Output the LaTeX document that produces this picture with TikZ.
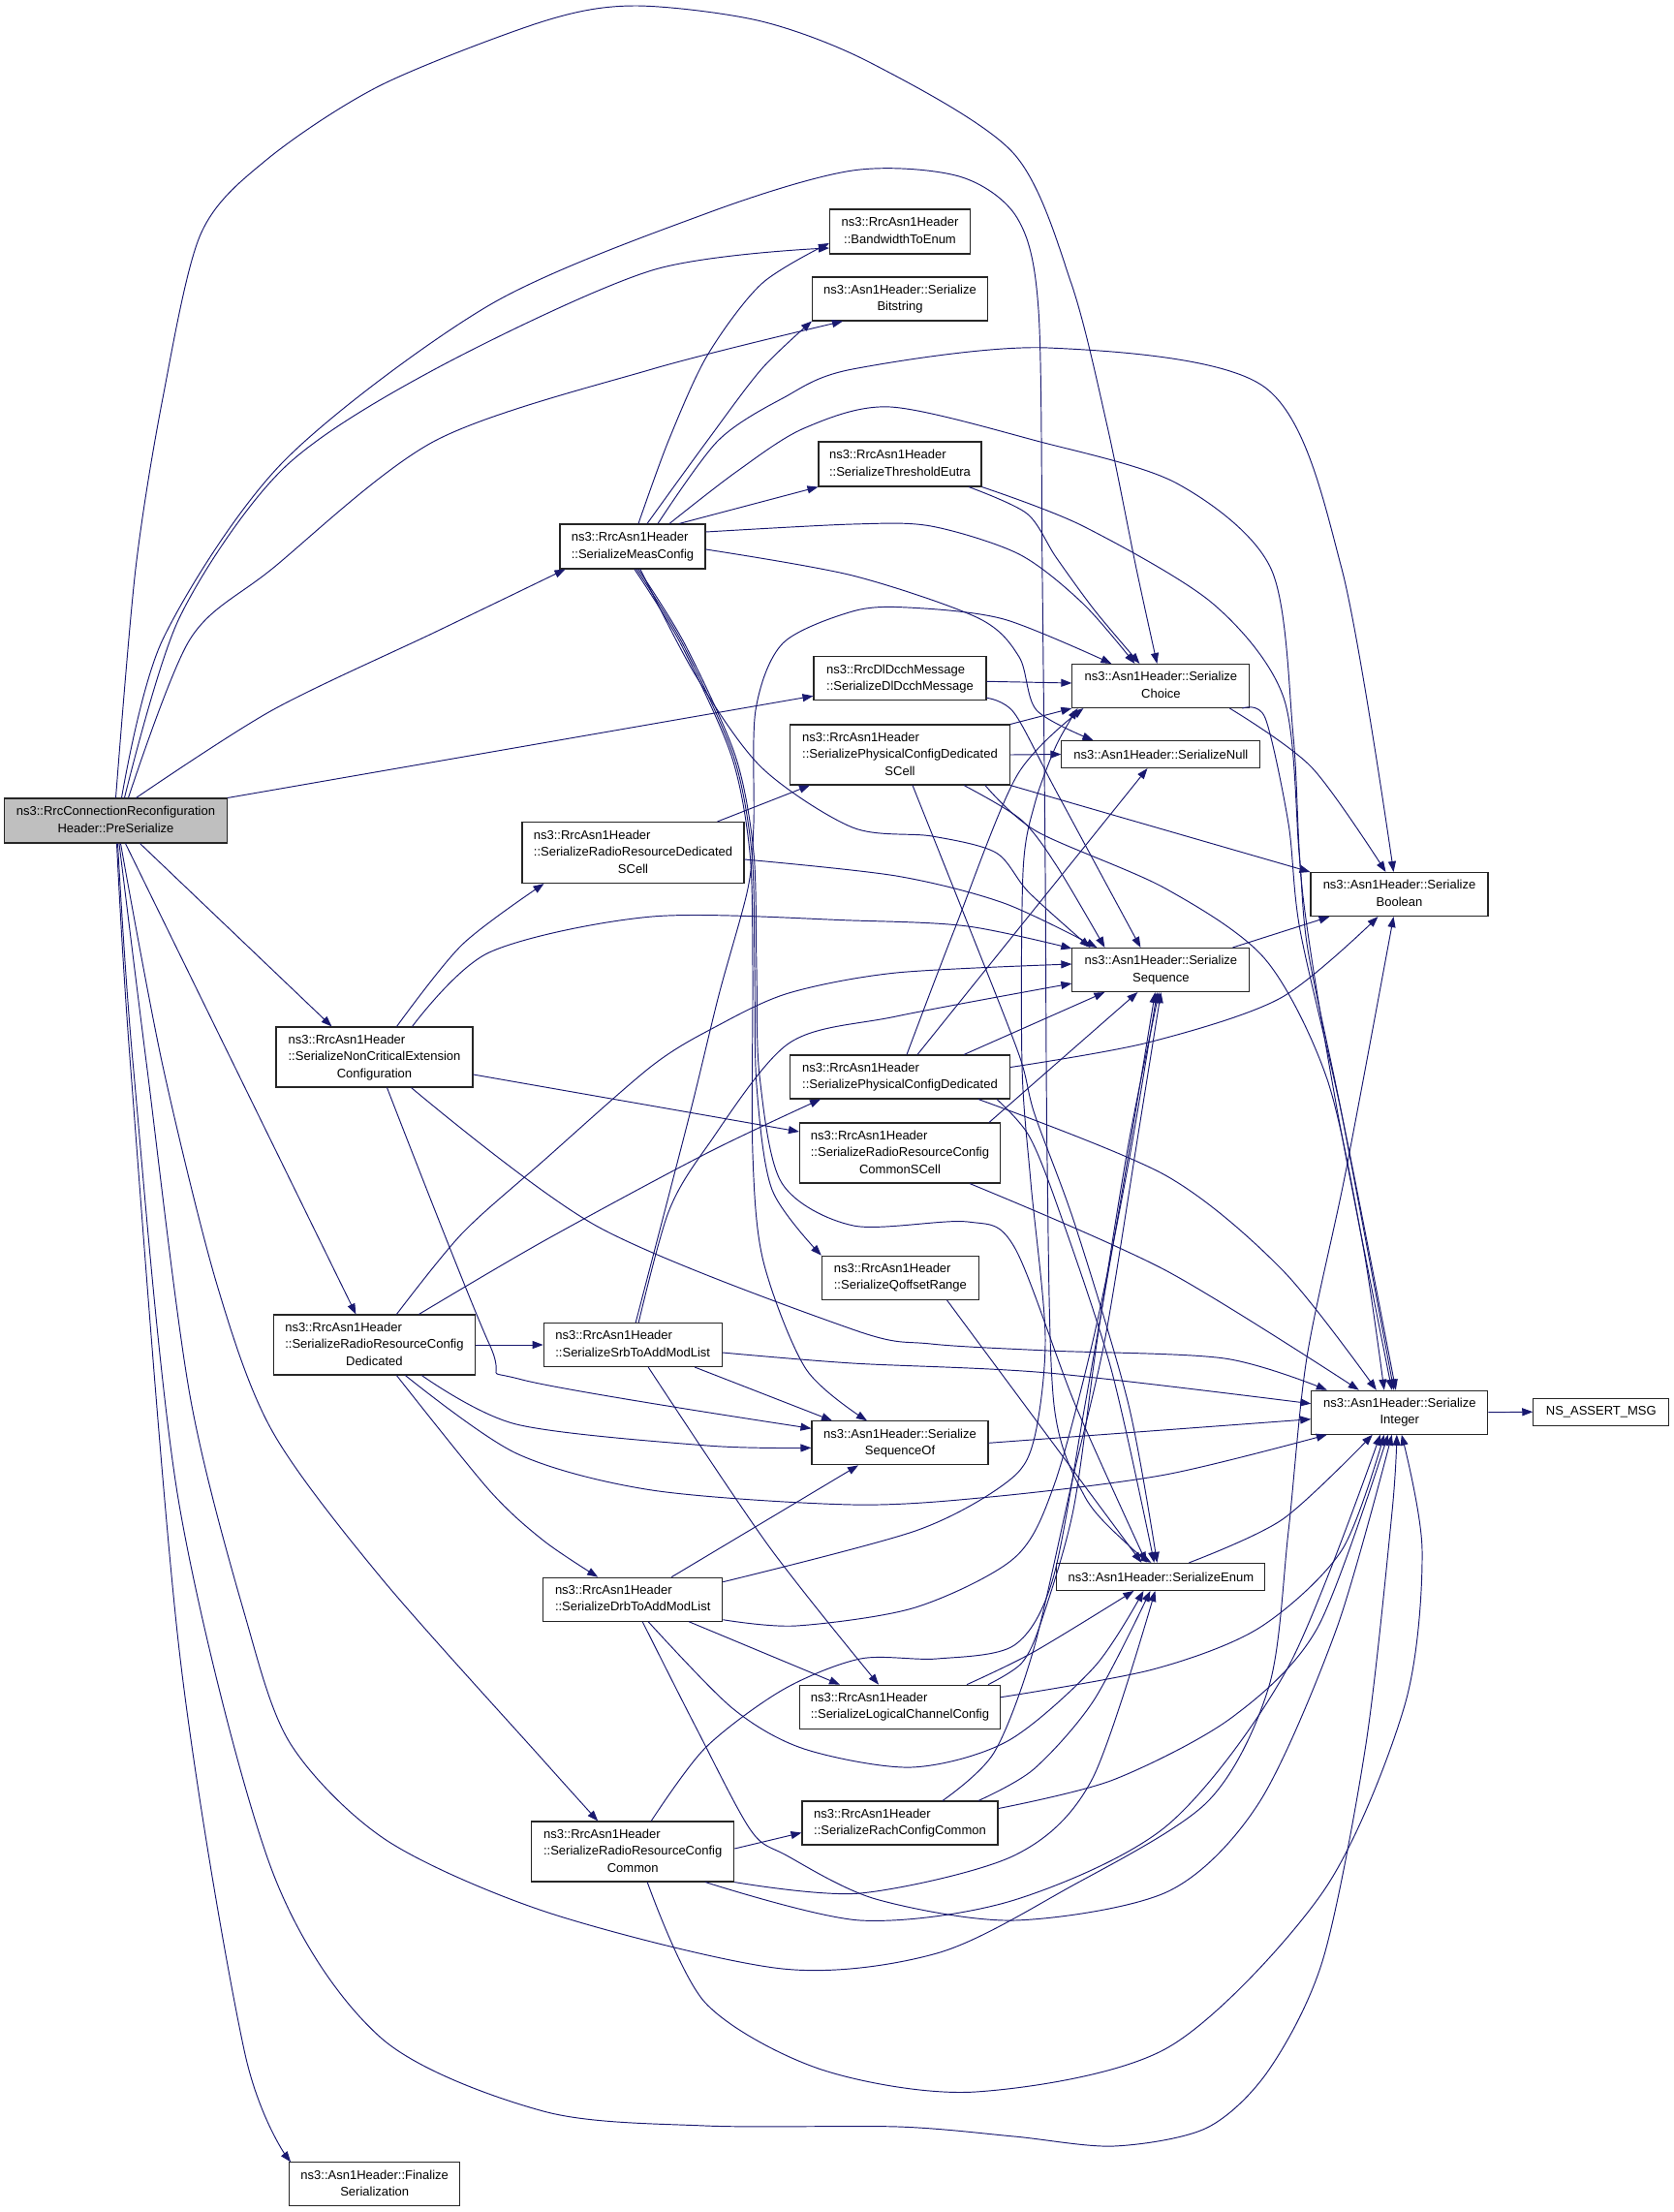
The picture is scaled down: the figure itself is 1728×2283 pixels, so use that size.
\documentclass[tikz,border=0pt]{standalone}
\usepackage{fontspec}
\setmainfont{Liberation Sans}
\usetikzlibrary{arrows.meta}
\definecolor{edgec}{RGB}{25,25,112}
\definecolor{pgray}{RGB}{191,191,191}
\newcommand{\lblB}[2]{\begin{tabular}{@{}l@{}}#1\\\multicolumn{1}{@{}c@{}}{#2}\end{tabular}}
\newcommand{\lblC}[3]{\begin{tabular}{@{}l@{}}#1\\#2\\\multicolumn{1}{@{}c@{}}{#3}\end{tabular}}
\begin{document}
\begin{tikzpicture}[x=1pt,y=-1pt,
  box/.style={draw=black!85, line width=1.1pt, fill=white, inner sep=0pt, font=\fontsize{13}{17.5}\selectfont, text=black},
  cg/.style={draw=edgec, line width=0.95pt, -{Triangle[length=11pt,width=8pt]}}]
\fill[white] (0,0) rectangle (1728,2283);
\useasboundingbox (0,0) rectangle (1728,2283);
% nodes
\node[box, fill=pgray, minimum width=230pt, minimum height=46pt] (P) at (119.5,847) {\lblB{ns3::RrcConnectionReconfiguration}{Header::PreSerialize}};
\node[box, minimum width=145pt, minimum height=46pt] (B) at (929,239) {\lblB{ns3::RrcAsn1Header}{::BandwidthToEnum}};
\node[box, minimum width=181pt, minimum height=45pt] (Bs) at (929,308.5) {\lblB{ns3::Asn1Header::Serialize}{Bitstring}};
\node[box, minimum width=168pt, minimum height=46pt] (T) at (929,479) {\lblB{ns3::RrcAsn1Header}{::SerializeThresholdEutra}};
\node[box, minimum width=150pt, minimum height=46pt] (M) at (653,564) {\lblB{ns3::RrcAsn1Header}{::SerializeMeasConfig}};
\node[box, minimum width=178pt, minimum height=45pt] (D) at (929,700.3) {\lblB{ns3::RrcDlDcchMessage}{::SerializeDlDcchMessage}};
\node[box, minimum width=183pt, minimum height=45pt] (C) at (1198.4,708) {\lblB{ns3::Asn1Header::Serialize}{Choice}};
\node[box, minimum width=227pt, minimum height=62pt] (PS) at (929,779) {\lblC{ns3::RrcAsn1Header}{::SerializePhysicalConfigDedicated}{SCell}};
\node[box, minimum width=205pt, minimum height=28pt] (Nu) at (1198.4,778.5) {ns3::Asn1Header::SerializeNull};
\node[box, minimum width=229pt, minimum height=63pt] (RS) at (653.5,880) {\lblC{ns3::RrcAsn1Header}{::SerializeRadioResourceDedicated}{SCell}};
\node[box, minimum width=183pt, minimum height=45pt] (Bo) at (1444.5,923) {\lblB{ns3::Asn1Header::Serialize}{Boolean}};
\node[box, minimum width=183pt, minimum height=45pt] (S) at (1198.4,1001) {\lblB{ns3::Asn1Header::Serialize}{Sequence}};
\node[box, minimum width=203pt, minimum height=62pt] (NC) at (386.5,1091) {\lblC{ns3::RrcAsn1Header}{::SerializeNonCriticalExtension}{Configuration}};
\node[box, minimum width=227pt, minimum height=45pt] (PD) at (929,1111.5) {\lblB{ns3::RrcAsn1Header}{::SerializePhysicalConfigDedicated}};
\node[box, minimum width=207pt, minimum height=62pt] (RCS) at (929,1190) {\lblC{ns3::RrcAsn1Header}{::SerializeRadioResourceConfig}{CommonSCell}};
\node[box, minimum width=162pt, minimum height=45pt] (Q) at (929.4,1318.7) {\lblB{ns3::RrcAsn1Header}{::SerializeQoffsetRange}};
\node[box, minimum width=208pt, minimum height=62pt] (RD) at (386.4,1388) {\lblC{ns3::RrcAsn1Header}{::SerializeRadioResourceConfig}{Dedicated}};
\node[box, minimum width=184pt, minimum height=45pt] (Srb) at (653.2,1388) {\lblB{ns3::RrcAsn1Header}{::SerializeSrbToAddModList}};
\node[box, minimum width=182pt, minimum height=45pt] (I) at (1444.8,1457.7) {\lblB{ns3::Asn1Header::Serialize}{Integer}};
\node[box, minimum width=140pt, minimum height=28pt] (NA) at (1652.8,1457.2) {NS\_ASSERT\_MSG};
\node[box, minimum width=182pt, minimum height=45pt] (SO) at (929,1489.3) {\lblB{ns3::Asn1Header::Serialize}{SequenceOf}};
\node[box, minimum width=215pt, minimum height=28pt] (E) at (1198.4,1627.4) {ns3::Asn1Header::SerializeEnum};
\node[box, minimum width=185pt, minimum height=45pt] (Drb) at (653.2,1650.7) {\lblB{ns3::RrcAsn1Header}{::SerializeDrbToAddModList}};
\node[box, minimum width=207pt, minimum height=45pt] (L) at (929,1761.7) {\lblB{ns3::RrcAsn1Header}{::SerializeLogicalChannelConfig}};
\node[box, minimum width=202pt, minimum height=45pt] (R) at (929,1881.5) {\lblB{ns3::RrcAsn1Header}{::SerializeRachConfigCommon}};
\node[box, minimum width=209pt, minimum height=62pt] (RC) at (653.2,1911) {\lblC{ns3::RrcAsn1Header}{::SerializeRadioResourceConfig}{Common}};
\node[box, minimum width=176pt, minimum height=45pt] (F) at (386.7,2254.4) {\lblB{ns3::Asn1Header::Finalize}{Serialization}};
% ---- edges from PreSerialize
\draw[cg] plot[smooth] coordinates {(P.north) (140,587) (168,411) (207,242) (275,165) (393,88) (561,22) (656,6) (786,22) (901,66) (1046,158) (1106,293) (1143,440) (1173,587) ([xshift=-4pt]C.north)};
\draw[cg] plot[smooth] coordinates {([xshift=6pt]P.north) (168,660) (292,477) (505,315) (730,220) (880,176) (990,182) (1050,225) (1072,320) (1076,600) (1079,900) (1081,1200) (1088,1450) (1120,1545) (1165,1595) ([xshift=-10pt]E.north)};
\draw[cg] plot[smooth] coordinates {([xshift=9pt]P.north) (185,638) (292,484) (449,381) (673,279) ([yshift=-17pt]B.west)};
\draw[cg] plot[smooth] coordinates {([xshift=13pt]P.north) (196,660) (281,587) (449,455) (673,381) ([xshift=32pt]Bs.south west)};
\draw[cg] plot[smooth] coordinates {([xshift=21pt]P.north) (281,733) (450,652) ([xshift=6pt]M.south west)};
\draw[cg] (P.north east) -- ([yshift=-18pt]D.west);
\draw[cg] ([xshift=25pt]P.south) -- ([xshift=-44pt]NC.north);
\draw[cg] ([xshift=10pt]P.south) -- ([xshift=-19pt]RD.north);
\draw[cg] plot[smooth] coordinates {([xshift=5pt]P.south) (168,1100) (224,1326) (281,1477) (393,1628) (561,1817) ([xshift=-36pt]RC.north)};
\draw[cg] plot[smooth] coordinates {([xshift=1pt]P.south) (134.7,1100) (185,1703) (252.5,2118) ([xshift=2pt]F.north west)};
\draw[cg] plot[smooth] coordinates {([xshift=3.5pt]P.south) (151.5,1100) (196,1440) (252.5,1666) (300,1800) (400,1900) (569,1975) (808,2032) (967,2016) (1100,1950) (1246,1860) (1310,1740) (1330,1580) (1349,1401) (1389,1210) ([xshift=-6pt]Bo.south)};
\draw[cg] plot[smooth] coordinates {([xshift=2pt]P.south) (137.5,1100) (185,1553) (280.6,1930) (393,2103) (561,2179) (728,2194) (927.5,2195) (1047,2205) (1150,2215) (1246,2196) (1310,2136) (1366,2021) (1410,1800) (1437,1560) ([xshift=-3pt]I.south)};
% ---- MeasConfig
\draw[cg] plot[smooth] coordinates {([xshift=6pt]M.north) (690,455) (730,367) (786,293) ([yshift=-12pt]B.west)};
\draw[cg] plot[smooth] coordinates {([xshift=15pt]M.north) (730,455) (786,381) (Bs.south west)};
\draw[cg] ([xshift=48pt]M.north) -- (T.south west);
\draw[cg] plot[smooth] coordinates {([yshift=15pt]M.east) (880,541) (961,543) (1052,572) (1118,623) ([xshift=-27pt]C.north)};
\draw[cg] plot[smooth] coordinates {([yshift=-3pt]M.east) (880,594) (1010,638) (1052,678) (1070,733) ([xshift=-70pt]Nu.north)};
\draw[cg] plot[smooth] coordinates {([xshift=26pt]M.north) (741,455) (808,411) (880,381) (1082,359) (1306,400) (1385,587) ([xshift=-6pt]Bo.north)};
\draw[cg] plot[smooth] coordinates {([xshift=38pt]M.north) (760,487) (830,442) (919,420) (1070,455) (1215,499) (1312,587) (1335,760) (1345,925) (1380,1144) ([xshift=-8pt]I.north)};
\draw[cg] plot[smooth] coordinates {([xshift=8pt]M.south) (718,697) (786,792) (880,854) (962,863) (1028,880) (1062,921) ([xshift=-73pt]S.north)};
\draw[cg] plot[smooth] coordinates {([xshift=4pt]M.south) (705,665) (757,780) (776,880) (779,1000) (781,1120) (797,1228) (Q.north west)};
\draw[cg] plot[smooth] coordinates {([xshift=2pt]M.south) (703,665) (755,780) (774,880) (777,1000) (777,1191) (788,1302) (832,1413) ([xshift=-34pt]SO.north)};
\draw[cg] plot[smooth] coordinates {([xshift=6pt]M.south) (707,665) (759,780) (778,880) (781,1000) (784,1110) (807,1221) (881,1265) (999,1261) (1047,1287) (1110,1450) ([xshift=-15pt]E.north)};
% ---- ThresholdEutra
\draw[cg] plot[smooth] coordinates {([xshift=71pt]T.south) (1060,530) (1090,575) (1130,630) ([xshift=-22pt]C.north)};
\draw[cg] plot[smooth] coordinates {(T.south east) (1118,543) (1252,623) (1325,720) (1341,880) (1350,980) (1385,1150) ([xshift=-6pt]I.north)};
% ---- DlDcch
\draw[cg] ([yshift=-3pt]D.east) -- ([yshift=3pt]C.west);
\draw[cg] plot[smooth] coordinates {([yshift=-20pt]D.east) (1047,736) (1091,818) ([xshift=-21pt]S.north)};
% ---- PhysicalConfigDedicatedSCell
\draw[cg] (PS.north east) -- (C.south west);
\draw[cg] (PS.east) -- (Nu.west);
\draw[cg] (PS.south east) -- (Bo.north west);
\draw[cg] plot[smooth] coordinates {([xshift=66pt]PS.south) (1054,846) (1091,894) ([xshift=-58pt]S.north)};
\draw[cg] plot[smooth] coordinates {([xshift=88pt]PS.south) (1070,858) (1203,917) (1306,990) (1370,1114) (1407,1286) ([xshift=-16pt]I.north)};
\draw[cg] plot[smooth] coordinates {([xshift=13pt]PS.south) (1000,956) (1052,1089) (1068,1150) (1110,1265) (1165,1450) ([xshift=-4pt]E.north)};
% ---- RadioResourceDedicatedSCell
\draw[cg] ([xshift=87pt]RS.north) -- ([xshift=-93pt]PS.south);
\draw[cg] plot[smooth] coordinates {([yshift=-7pt]RS.east) (925,904) (1036,932) ([xshift=-66pt]S.north)};
% ---- NonCriticalExtension
\draw[cg] plot[smooth] coordinates {([xshift=23pt]NC.north) (477,975) ([xshift=-92pt]RS.south)};
\draw[cg] plot[smooth] coordinates {([xshift=39pt]NC.north) (505,983) (673,946) (880,950) (999,956) ([yshift=-1pt]S.north west)};
\draw[cg] ([yshift=-18pt]NC.east) -- ([yshift=22pt]RCS.west);
\draw[cg] plot[smooth] coordinates {([xshift=13pt]NC.south) (505,1387) (539,1424) ([yshift=15pt]SO.west)};
\draw[cg] plot[smooth] coordinates {([xshift=38pt]NC.south) (617,1266) (880,1372) (961,1387) (1082,1394) (1264,1402) ([xshift=-75pt]I.north)};
% ---- RadioResourceConfigDedicated
\draw[cg] plot[smooth] coordinates {([xshift=23pt]RD.north) (477,1273) (561,1198) (673,1100) (740,1059) (814,1025) (925,1004) ([yshift=6pt]S.west)};
\draw[cg] plot[smooth] coordinates {([xshift=46pt]RD.north) (561,1281) (730,1190) ([xshift=-82pt]PD.south)};
\draw[cg] (RD.east) -- (Srb.west);
\draw[cg] plot[smooth] coordinates {([xshift=49pt]RD.south) (533,1470) (730,1492) ([yshift=-5pt]SO.west)};
\draw[cg] plot[smooth] coordinates {([xshift=32pt]RD.south) (533,1500) (673,1538) (880,1553) (1022,1545) (1203,1522) ([xshift=-75pt]I.south)};
\draw[cg] plot[smooth] coordinates {([xshift=23pt]RD.south) (505,1538) (561,1590) ([xshift=-36pt]Drb.north)};
% ---- SrbToAddModList
\draw[cg] plot[smooth] coordinates {([xshift=3pt]Srb.north) (712,1150) (742,1027) (772,917) (778,850) (780,733) (808,664) (880,631) (937,627) (1036,639) ([xshift=-51pt]C.north)};
\draw[cg] plot[smooth] coordinates {([xshift=6pt]Srb.north) (690,1251) (730,1183) (814,1077) (925,1049) ([yshift=-14pt]S.west)};
\draw[cg] plot[smooth] coordinates {([yshift=-8pt]Srb.east) (880,1407) (1082,1417) ([yshift=9pt]I.west)};
\draw[cg] ([xshift=64pt]Srb.south) -- ([xshift=-70pt]SO.north);
\draw[cg] plot[smooth] coordinates {([xshift=16pt]Srb.south) (793,1595) ([xshift=-22pt]L.north)};
% ---- DrbToAddModList
\draw[cg] plot[smooth] coordinates {([yshift=18pt]Drb.east) (945,1580) (1039,1530) (1067,1487) (1079,1380) (1064,1220) (1055,1100) (1056,900) (1068,830) (1090,770) ([xshift=-86pt]C.south)};
\draw[cg] ([xshift=40pt]Drb.north) -- ([xshift=-43pt]SO.south);
\draw[cg] plot[smooth] coordinates {([yshift=-21pt]Drb.east) (822,1678) (945,1659) (1047,1608) (1088,1533) (1129,1380) (1165,1200) ([xshift=-4pt]S.south)};
\draw[cg] ([xshift=58pt]Drb.south) -- ([xshift=-62pt]L.north);
\draw[cg] plot[smooth] coordinates {([xshift=16pt]Drb.south) (756,1763) (830,1805) (941,1824) (1040,1797) (1130,1720) ([xshift=-18pt]E.south)};
\draw[cg] plot[smooth] coordinates {([xshift=10pt]Drb.south) (719,1784) (775,1889) (812,1915) (904,1960) (1047,1982) (1206,1952) (1300,1860) (1380,1680) ([xshift=-8pt]I.south)};
% ---- LogicalChannelConfig
\draw[cg] plot[smooth] coordinates {([xshift=91pt]L.north) (1055,1716) (1075,1673) (1108,1558) (1133,1380) (1165,1180) ([xshift=-2pt]S.south)};
\draw[cg] plot[smooth] coordinates {([xshift=69pt]L.north) (1067,1705) ([xshift=-28pt]E.south)};
\draw[cg] plot[smooth] coordinates {([yshift=10pt]L.east) (1190,1723) (1300,1680) (1385,1600) ([xshift=-16pt]I.south)};
% ---- RachConfigCommon
\draw[cg] plot[smooth] coordinates {([xshift=44pt]R.north) (1026,1809) (1067,1702) (1108,1523) (1141,1380) (1175,1170) (S.south)};
\draw[cg] plot[smooth] coordinates {([xshift=81pt]R.north) (1067,1826) (1129,1755) ([xshift=-11pt]E.south)};
\draw[cg] plot[smooth] coordinates {([yshift=15pt]R.east) (1149,1837) (1271,1773) (1360,1680) ([xshift=-12pt]I.south)};
% ---- RadioResourceConfigCommon
\draw[cg] ([yshift=3pt]RC.east) -- ([yshift=-10pt]R.west);
\draw[cg] plot[smooth] coordinates {([xshift=19pt]RC.north) (728,1804) (808,1744) (888,1712) (967,1712) (1047,1698) (1087,1629) (1120,1450) (1160,1220) ([xshift=-6pt]S.south)};
\draw[cg] plot[smooth] coordinates {(RC.south east) (888,1954) (1047,1915) (1127,1837) ([xshift=-6pt]E.south)};
\draw[cg] plot[smooth] coordinates {([xshift=75pt]RC.south) (888,1982) (1047,1961) (1206,1883) (1330,1720) ([xshift=-20pt]I.south)};
\draw[cg] plot[smooth] coordinates {([xshift=15pt]RC.south) (728,2067) (848,2136) (1007,2159) (1206,2113) (1366,1952) (1450,1760) (1468,1600) ([xshift=2pt]I.south)};
% ---- others
\draw[cg] ([xshift=48pt]Q.south) -- ([xshift=-20pt]E.north);
\draw[cg] (SO.east) -- ([yshift=-7pt]I.west);
\draw[cg] ([xshift=74pt]S.north) -- ([xshift=-72pt]Bo.south);
\draw[cg] plot[smooth] coordinates {([xshift=71pt]C.south) (1354,792) ([xshift=-14pt]Bo.north)};
\draw[cg] plot[smooth] coordinates {([xshift=84pt]C.south) (1306,741) (1330,850) (1342,960) (1385,1150) ([xshift=-4pt]I.north)};
\draw[cg] plot[smooth] coordinates {([xshift=29pt]E.north) (1324,1568) ([xshift=-28pt]I.south)};
\draw[cg] (I.east) -- (NA.west);
% ---- PhysicalConfigDedicated
\draw[cg] plot[smooth] coordinates {([xshift=7pt]PD.north) (985,960) (1050,800) ([xshift=-80pt]C.south)};
\draw[cg] ([xshift=18pt]PD.north) -- ([xshift=-14pt]Nu.south);
\draw[cg] ([xshift=66pt]PD.north) -- ([xshift=-58pt]S.south);
\draw[cg] plot[smooth] coordinates {([yshift=10pt]PD.east) (1185,1076) (1322,1030) ([xshift=-22pt]Bo.south)};
\draw[cg] plot[smooth] coordinates {([xshift=100pt]PD.south) (1062,1172) (1092,1246) (1147,1413) ([xshift=-7pt]E.north)};
\draw[cg] plot[smooth] coordinates {([xshift=81pt]PD.south) (1203,1213) (1324,1311) ([xshift=-24pt]I.north)};
% ---- RadioResourceConfigCommonSCell
\draw[cg] ([xshift=92pt]RCS.north) -- ([xshift=-24pt]S.south);
\draw[cg] plot[smooth] coordinates {([xshift=72pt]RCS.south) (1203,1311) ([xshift=-42pt]I.north)};
\end{tikzpicture}
\end{document}
